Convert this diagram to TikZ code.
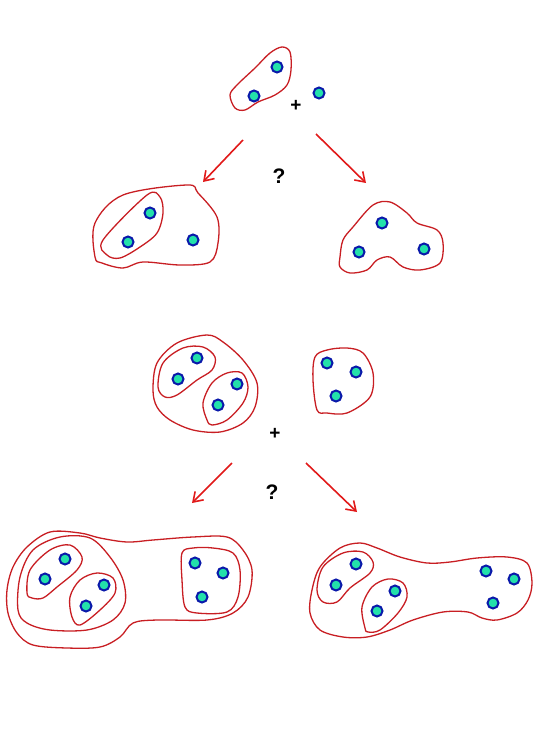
\documentclass[tikz,border=0pt]{standalone}
\definecolor{blobred}{RGB}{200,30,35}
\definecolor{arrowred}{RGB}{225,25,25}
\definecolor{atomblue}{RGB}{10,25,170}
\definecolor{atomgreen}{RGB}{35,225,170}
\usepackage{fontspec}
\setmainfont{Liberation Sans}
\usepackage{tikz}
\usetikzlibrary{arrows.meta}

\begin{document}
\begin{tikzpicture}[
      x=1pt, y=-1pt,
      atom/.style={
          circle,
          draw=atomblue,
          fill=atomgreen,
          line width=2pt,
          inner sep=0pt,
          minimum size=11pt
        },
      blob/.style={draw=blobred, line width=1.3pt},
      react/.style={-{Straight Barb[length=9pt, width=12pt]}, arrowred, line width=1.6pt},
      sign/.style={font=\bfseries\fontsize{19}{21}\selectfont, text=black},
      ask/.style={font=\bfseries\fontsize{21}{24}\selectfont, text=black}
    ]
    \useasboundingbox (0,0) rectangle (540,749);

    \draw[blob] plot[smooth cycle, tension=0.55] coordinates {(235,108) (230,95) (237,85) (255,68) (270,53) (282,47) (290,52) (291,70) (287,85) (275,95) (258,102) (245,110)};
    \node[atom] (t1) at (277,67) {};
    \node[atom] (t2) at (254,96) {};
    \node[atom] (t3) at (319,93) {};
    \node[sign] (plusA) at (296,106) {+};

    \coordinate (splitAl) at (243,140);
    \coordinate (splitAr) at (316,134);
    \coordinate (endAl) at (203,182);
    \coordinate (endAr) at (366,183);
    \draw[react] (splitAl) -- (endAl);
    \draw[react] (splitAr) -- (endAr);
    \node[ask] (askA) at (279,176) {?};

    \draw[blob] plot[smooth cycle, tension=0.55] coordinates {(95,223) (123,195) (187,185) (198,193) (217,217) (218,243) (210,262) (180,265) (143,262) (123,268) (102,263) (95,257)};
    \draw[blob] plot[smooth cycle, tension=0.55] coordinates {(103,240) (147,195) (160,197) (163,213) (157,233) (140,247) (120,258) (107,255)};
    \node[atom] (l1) at (150,213) {};
    \node[atom] (l2) at (128,242) {};
    \node[atom] (l3) at (193,240) {};

    \draw[blob] plot[smooth cycle, tension=0.55] coordinates {(340,257) (343,240) (353,227) (373,205) (390,202) (407,213) (417,223) (437,230) (443,243) (440,263) (420,270) (403,267) (390,257) (377,260) (367,270) (350,273) (340,267)};
    \node[atom] (r1) at (382,223) {};
    \node[atom] (r2) at (359,252) {};
    \node[atom] (r3) at (424,249) {};

    \draw[blob] plot[smooth cycle, tension=0.55] coordinates {(153,390) (157,363) (177,343) (207,335) (223,342) (243,360) (257,383) (255,407) (243,423) (220,432) (193,430) (170,420) (157,407)};
    \draw[blob] plot[smooth cycle, tension=0.55] coordinates {(158,387) (163,363) (183,348) (203,347) (215,357) (212,370) (197,380) (177,395) (165,397)};
    \draw[blob] plot[smooth cycle, tension=0.55] coordinates {(207,420) (203,403) (212,383) (227,373) (242,373) (248,387) (243,403) (227,420) (212,425)};
    \node[atom] (m1) at (197,358) {};
    \node[atom] (m2) at (178,379) {};
    \node[atom] (m3) at (237,384) {};
    \node[atom] (m4) at (218,405) {};

    \draw[blob] plot[smooth cycle, tension=0.55] coordinates {(315,357) (313,380) (317,410) (327,413) (347,413) (370,397) (373,373) (363,353) (347,348) (327,350)};
    \node[atom] (n1) at (327,363) {};
    \node[atom] (n2) at (356,372) {};
    \node[atom] (n3) at (336,396) {};
    \node[sign] (plusB) at (275,434) {+};

    \coordinate (splitBl) at (232,463);
    \coordinate (splitBr) at (306,463);
    \coordinate (endBl) at (192,503);
    \coordinate (endBr) at (357,512);
    \draw[react] (splitBl) -- (endBl);
    \draw[react] (splitBr) -- (endBr);
    \node[ask] (askB) at (272,492) {?};

    \draw[blob] plot[smooth cycle, tension=0.55] coordinates {(7,590) (13,567) (27,547) (50,532) (80,533) (100,538) (127,542) (153,540) (193,537) (227,537) (243,550) (252,570) (248,597) (233,613) (207,620) (157,620) (133,623) (120,637) (100,647) (67,648) (33,645) (17,633) (8,613)};
    \draw[blob] plot[smooth cycle, tension=0.55] coordinates {(18,610) (20,577) (33,550) (60,537) (90,538) (110,557) (123,580) (125,603) (113,620) (87,630) (50,630) (27,623)};
    \draw[blob] plot[smooth cycle, tension=0.55] coordinates {(27,593) (30,570) (50,550) (70,545) (82,557) (77,570) (57,587) (43,598) (32,598)};
    \draw[blob] plot[smooth cycle, tension=0.55] coordinates {(72,617) (70,597) (80,580) (97,573) (113,578) (115,593) (100,610) (80,625)};
    \draw[blob] plot[smooth cycle, tension=0.55] coordinates {(182,553) (182,580) (185,607) (197,613) (227,612) (238,597) (240,570) (233,553) (213,548) (193,548)};
    \node[atom] (p1) at (65,559) {};
    \node[atom] (p2) at (45,579) {};
    \node[atom] (p3) at (104,585) {};
    \node[atom] (p4) at (86,606) {};
    \node[atom] (p5) at (195,563) {};
    \node[atom] (p6) at (223,573) {};
    \node[atom] (p7) at (202,597) {};

    \draw[blob] plot[smooth cycle, tension=0.55] coordinates {(310,613) (312,590) (320,567) (340,548) (360,543) (377,548) (400,557) (427,563) (450,562) (477,558) (507,557) (527,563) (532,583) (528,600) (517,613) (497,620) (482,618) (468,612) (443,612) (413,620) (390,630) (367,637) (343,637) (320,630)};
    \draw[blob] plot[smooth cycle, tension=0.55] coordinates {(317,590) (323,567) (343,553) (363,552) (373,562) (370,573) (350,588) (337,602) (323,602)};
    \draw[blob] plot[smooth cycle, tension=0.55] coordinates {(365,628) (362,607) (372,587) (388,579) (403,583) (407,597) (398,613) (380,630) (368,632)};
    \node[atom] (q1) at (356,564) {};
    \node[atom] (q2) at (336,585) {};
    \node[atom] (q3) at (395,591) {};
    \node[atom] (q4) at (377,611) {};
    \node[atom] (q5) at (486,571) {};
    \node[atom] (q6) at (514,579) {};
    \node[atom] (q7) at (493,603) {};
  \end{tikzpicture}
\end{document}
